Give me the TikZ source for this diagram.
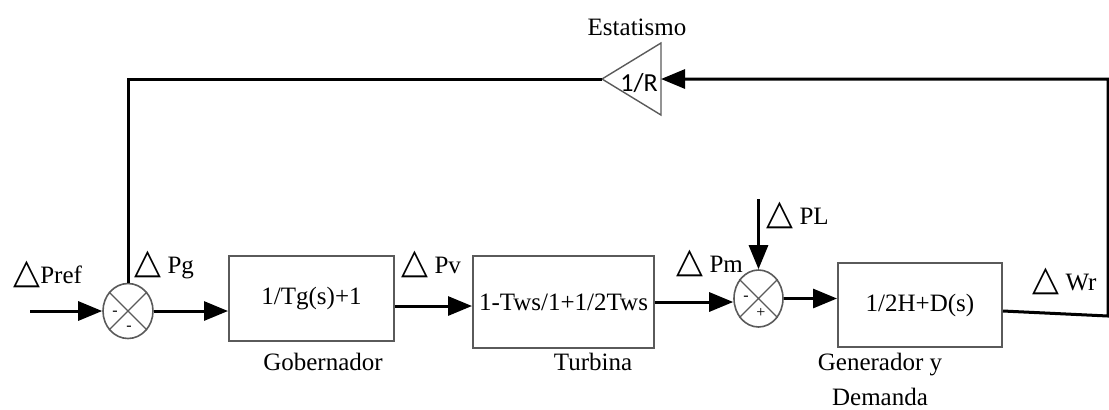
\documentclass[tikz,border=0pt]{standalone}
\usepackage{fontspec}
\setmainfont{Liberation Serif}
\newfontfamily\trifont{DejaVu Sans}
\newfontfamily\gainfont{Carlito}
\usepackage{tikz}
\usetikzlibrary{arrows.meta, shapes.geometric}
\definecolor{blkGray}{HTML}{5A5A5A}
\newcommand{\deltri}{{\trifont\fontsize{17.5}{17.5}\selectfont △}}

\begin{document}
\begin{tikzpicture}[x=0.5pt, y=-0.5pt,
  every node/.style={font=\fontsize{12.5}{15}\selectfont},
  block/.style={draw=blkGray, line width=1pt, inner sep=1pt},
  sumj/.style={ellipse, draw=blkGray, line width=0.8pt, inner sep=0pt},
  crs/.style={blkGray, line width=0.6pt},
  sig/.style={line width=1.5pt},
  arr/.style={sig, -{Triangle[length=12pt, width=9.5pt]}},
  lbl/.style={anchor=base west, inner sep=0pt},
  captxt/.style={anchor=base, inner sep=0pt},
  sgn/.style={inner sep=0pt, font=\fontsize{8}{8}\selectfont}
]
\useasboundingbox (0,0) rectangle (1109,409);

% blocks
\node[block, minimum width=82.5pt, minimum height=42.5pt] (gob) at (311.5,298.5) {1/Tg(s)+1};
\node[block, minimum width=90.5pt, minimum height=46pt] (tur) at (563.5,302) {1-Tws/1+1/2Tws};
\node[block, minimum width=82pt, minimum height=42pt] (gen) at (920,305) {1/2H+D(s)};

% summing junctions
\node[sumj, minimum width=25pt, minimum height=27.5pt] (s1) at (128,311) {};
\node[sumj, minimum width=24.5pt, minimum height=28.5pt] (s2) at (758.5,298.5) {};
\draw[crs] (s1.45) -- (s1.225) (s1.135) -- (s1.315);
\draw[crs] (s2.45) -- (s2.225) (s2.135) -- (s2.315);
\node[sgn] (s1a) at (115,313) {-};
\node[sgn] (s1b) at (129,328) {-};
\node[sgn] (s2a) at (746,298) {-};
\node[sgn] (s2b) at (761,313) {+};

% droop gain
\coordinate (gtip) at (602,79);
\coordinate (gback) at (661,79);
\draw[blkGray, line width=0.7pt] (gback |- 0,43) -- (gback |- 0,115) -- (gtip) -- cycle;
\node[inner sep=0pt, font=\gainfont\fontsize{13}{14}\selectfont] (gain) at (639,83) {1/R};

% free ends
\coordinate (in) at (30,311);
\coordinate (pl) at (758.5,199);
\coordinate (cr) at (1108,316);
\coordinate (ctop) at (1108,79);

% signals
\draw[arr] (in) -- (s1);
\draw[arr] (s1.east) -- (s1.east -| gob.west);
\draw[arr] ([yshift=-3.75pt]gob.east) -- ([yshift=-3.75pt]gob.east -| tur.west);
\draw[arr] (tur.east) -- (tur.east -| s2.west);
\draw[arr] (pl) -- (s2.north);
\draw[arr] (s2.east) -- (s2.east -| gen.west);
\draw[arr] ([yshift=-3pt]gen.east) -- (cr) -- (ctop) -- (gback);
\draw[sig] (gtip) -| (s1.north);

% labels
\node[lbl] (lpref) at (13,283) {\deltri Pref};
\node[lbl] (lpg) at (134,273) {\deltri\ Pg};
\node[lbl] (lpv) at (401,273) {\deltri\ Pv};
\node[lbl] (lpm) at (676,272) {\deltri\ Pm};
\node[lbl] (lpl) at (766,224) {\deltri\ PL};
\node[lbl] (lwr) at (1032,290) {\deltri\ Wr};

% captions
\node[captxt] (cgob) at (323,370) {Gobernador};
\node[captxt] (ctur) at (593,370) {Turbina};
\node[captxt] (cgen) at (880,370) {Generador y};
\node[captxt] (cdem) at (880,405) {Demanda};
\node[captxt] (cest) at (637,35) {Estatismo};
\end{tikzpicture}
\end{document}
